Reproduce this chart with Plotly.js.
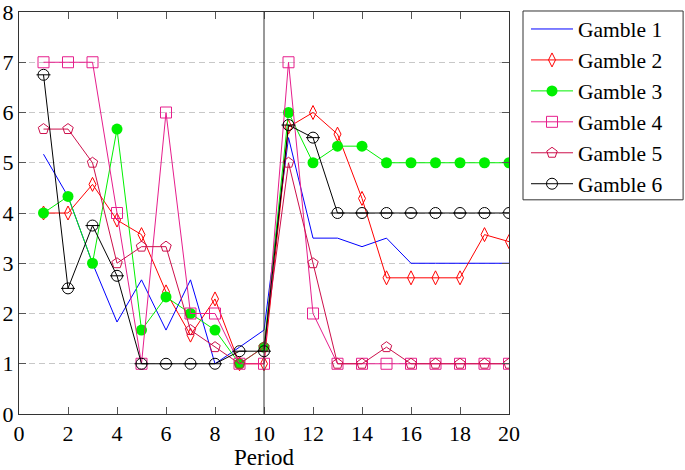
<!DOCTYPE html>
<html><head><meta charset="utf-8">
<script src="https://cdn.plot.ly/plotly-3.0.1.min.js"></script>
<style>html,body{margin:0;padding:0;background:#fff}#chart{width:685px;height:470px}</style>
</head><body><div id="chart"></div><script>
const periods = [1,2,3,4,5,6,7,8,9,10,11,12,13,14,15,16,17,18,19,20];
const gamble1 = [5.17,4.33,3.0,1.83,2.67,1.67,2.67,1.0,1.33,1.67,5.5,3.5,3.5,3.33,3.5,3.0,3.0,3.0,3.0,3.0];
const gamble2 = [4.0,4.0,4.57,3.86,3.57,2.43,1.57,2.29,1.0,1.0,5.71,6.0,5.57,4.29,2.71,2.71,2.71,2.71,3.57,3.43];
const gamble3 = [4.0,4.33,3.0,5.67,1.67,2.33,2.0,1.67,1.0,1.33,6.0,5.0,5.33,5.33,5.0,5.0,5.0,5.0,5.0,5.0];
const gamble4 = [7,7,7,4,1,6,2,2,1,1,7,2,1,1,1,1,1,1,1,1];
const gamble5 = [5.67,5.67,5.0,3.0,3.33,3.33,1.67,1.33,1.0,1.33,5.0,3.0,1,1,1.33,1,1,1,1,1];
const gamble6 = [6.75,2.5,3.75,2.75,1,1,1,1,1.25,1.25,5.75,5.5,4,4,4,4,4,4,4,4];
const seriesNames = ['Gamble 1','Gamble 2','Gamble 3','Gamble 4','Gamble 5','Gamble 6'];
const xTickVals = [0,2,4,6,8,10,12,14,16,18,20];
const yTickVals = [0,1,2,3,4,5,6,7,8];
const dividerPeriod = 10;
const xTitle = 'Period';

const FONT = 'Liberation Serif';
const traces = [
  {x: periods, y: gamble1, name: seriesNames[0], mode: 'lines', line: {color: '#0000ff', width: 1}},
  {x: periods, y: gamble2, name: seriesNames[1], mode: 'lines+markers', line: {color: '#ff0000', width: 1},
   marker: {symbol: 'diamond-tall-open', size: 10, color: '#ff0000', line: {width: 1}}},
  {x: periods, y: gamble3, name: seriesNames[2], mode: 'lines+markers', line: {color: '#00f000', width: 1},
   marker: {symbol: 'circle', size: 11, color: '#00f000'}},
  {x: periods, y: gamble4, name: seriesNames[3], mode: 'lines+markers', line: {color: '#e61e8c', width: 1},
   marker: {symbol: 'square-open', size: 11, color: '#e61e8c', line: {width: 1}}},
  {x: periods, y: gamble5, name: seriesNames[4], mode: 'lines+markers', line: {color: '#cd0f4b', width: 1},
   marker: {symbol: 'pentagon-open', size: 11, color: '#cd0f4b', line: {width: 1}}},
  {x: periods, y: gamble6, name: seriesNames[5], mode: 'lines+markers', line: {color: '#000000', width: 1},
   marker: {symbol: 'circle-open', size: 11, color: '#000000', line: {width: 1}}},
  {x: periods, y: gamble6, name: seriesNames[5], mode: 'markers', showlegend: false, hoverinfo: 'skip',
   marker: {symbol: 'line-ew-open', size: 10, color: '#000000', line: {width: 1, color: '#000000'}}}
];

const axisCommon = {
  showline: true, linecolor: '#333', linewidth: 1, mirror: 'allticks',
  ticks: 'inside', ticklen: 7, tickcolor: '#555', tickwidth: 1,
  zeroline: false, ticklabeloverflow: 'allow',
  tickfont: {family: FONT, size: 22, color: '#000'}
};

const layout = {
  width: 685, height: 470,
  margin: {l: 19, r: 176, t: 9, b: 56, pad: 0},
  paper_bgcolor: '#fff', plot_bgcolor: '#fff',
  font: {family: FONT, size: 22, color: '#000'},
  showlegend: true,
  xaxis: Object.assign({}, axisCommon, {
    range: [0, 20], tickvals: xTickVals, showgrid: false,
    title: {text: xTitle, font: {family: FONT, size: 23, color: '#000'}, standoff: 4}
  }),
  yaxis: Object.assign({}, axisCommon, {
    range: [0, 8], tickvals: yTickVals, showgrid: true,
    gridcolor: '#c8c8c8', gridwidth: 1, griddash: '6px,4px'
  }),
  legend: {
    x: 1.0347, xanchor: 'left', y: 1.0087, yanchor: 'top',
    bgcolor: 'rgba(0,0,0,0)', borderwidth: 0, itemwidth: 42,
    font: {family: FONT, size: 21.5, color: '#000'}
  },
  shapes: [
    {type: 'line', xref: 'x', yref: 'paper', x0: dividerPeriod, x1: dividerPeriod, y0: 0, y1: 1,
     line: {color: '#333', width: 1}, layer: 'above'},
    {type: 'rect', xref: 'paper', yref: 'paper', x0: 1.0286, x1: 1.3553, y0: 0.5328, y1: 1.0025,
     line: {color: '#333', width: 1}, fillcolor: '#fff', layer: 'below'}
  ]
};
Plotly.newPlot('chart', traces, layout, {displayModeBar: false, staticPlot: true});
</script></body></html>
